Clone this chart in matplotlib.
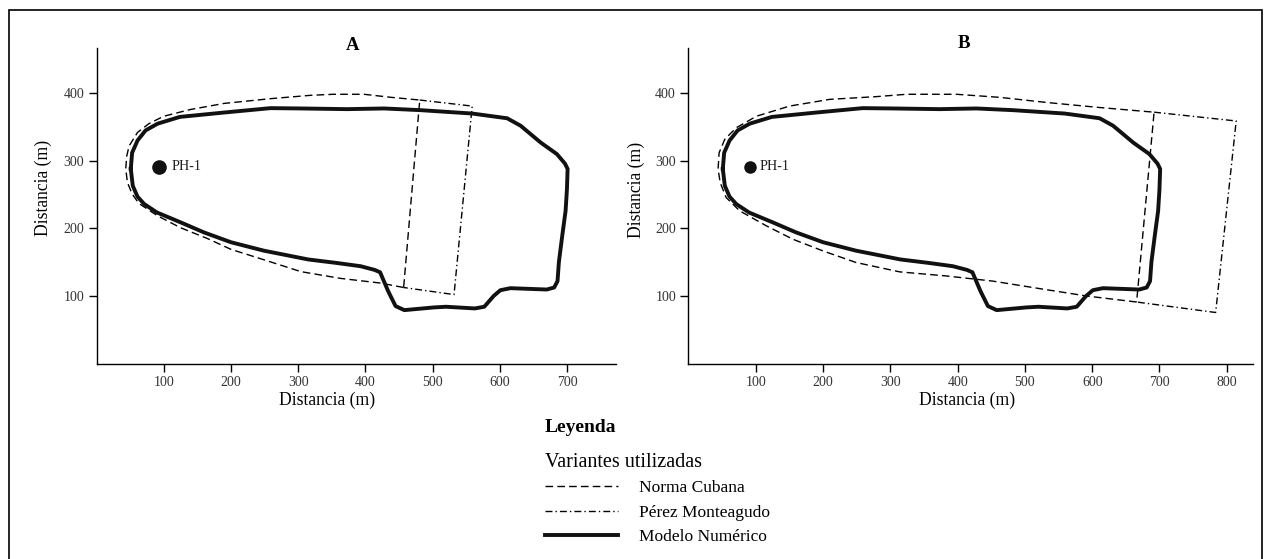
import matplotlib
matplotlib.use("Agg")
import matplotlib.pyplot as plt
from matplotlib.patches import Rectangle

plt.rcParams['font.family'] = ['Liberation Serif', 'DejaVu Serif']

# ---------------- data ----------------
# Modelo Numérico (same contour in both panels)
modelo_x = [51, 53, 61, 73, 91, 124, 190, 259, 304, 373, 428, 482, 559, 611, 631, 661, 685,
            697, 701, 700, 698, 693, 688, 686, 681, 670, 616, 601, 591, 577, 563, 520, 502,
            458, 445, 434, 422, 414, 393, 356, 315, 249, 200, 160, 125, 90, 71, 61, 54, 51]
modelo_y = [288, 312, 330, 345, 355, 365, 371.5, 378, 377.5, 376.5, 377.5, 375, 370, 363, 352,
            327, 310, 296, 288, 258, 226, 189, 150, 122, 112.5, 109.5, 111.5, 108.5, 100, 84,
            81.5, 84, 83, 79, 85, 107, 135, 138.5, 144, 149, 154, 167, 179.5, 194, 209, 223.5,
            236, 247, 263, 288]

# Norma Cubana - panel A
nc_a_x = [457, 423, 363, 304, 254, 200, 165, 125, 91, 63, 53, 46, 43.5, 45, 48.5, 61, 78, 100,
          140, 190, 259, 319, 353, 398, 438, 481, 457]
nc_a_y = [112.5, 119, 126, 136, 152, 169, 185, 201, 218.5, 237, 251, 268, 288, 307, 322, 342,
          355, 366, 376, 385, 392, 397, 398.5, 398.5, 394, 390, 112.5]
# Pérez Monteagudo - panel A
pm_a_x = [481, 559, 532, 457]
pm_a_y = [390, 381, 102, 112.5]

# Norma Cubana - panel B
nc_b_x = [666, 591, 521, 452, 383, 314, 249, 200, 155, 116, 76, 56, 47, 44, 45.5, 54, 71, 101,
          150, 210, 279, 324, 398, 462, 536, 610, 692, 666]
nc_b_y = [91, 100, 111, 122, 129.6, 135.6, 149.5, 166.6, 184, 203.6, 226, 245.6, 268, 288, 312,
          332, 349, 366, 381, 391, 395, 398.5, 398.5, 394, 386, 379, 372, 91]
# Pérez Monteagudo - panel B
pm_b_x = [692, 814, 783.5, 666]
pm_b_y = [372, 359, 75.5, 91]

# Well PH-1
ph_a = (92.5, 291)
ph_b = (91, 291)

xticks_a = [100, 200, 300, 400, 500, 600, 700]
xticks_b = [100, 200, 300, 400, 500, 600, 700, 800]
yticks = [100, 200, 300, 400]

labels = ["Norma Cubana", "Pérez Monteagudo", "Modelo Numérico"]

# ---------------- figure ----------------
W, H = 1270, 559
fig = plt.figure(figsize=(W / 100, H / 100), dpi=100)

def fx(px):
    return px / W

def fy(py):
    return 1 - py / H

bottom = fy(363.5)
height = (363.5 - 48) / H
axA = fig.add_axes([fx(96.5), bottom, (616 - 96.5) / W, height])
axB = fig.add_axes([fx(688.5), bottom, (1253 - 688.5) / W, height])

dash = (0, (5.5, 3))
dashdot = (0, (5, 2.2, 1, 2.2))

def draw(ax, ncx, ncy, pmx, pmy, ph, ms, xmax, xticks, phlab_dx):
    l1, = ax.plot(ncx, ncy, color='black', lw=1.0, linestyle=dash)
    l2, = ax.plot(pmx, pmy, color='black', lw=1.0, linestyle=dashdot)
    l3, = ax.plot(modelo_x, modelo_y, color='#111111', lw=2.8, solid_joinstyle='round')
    ax.plot([ph[0]], [ph[1]], 'o', color='#111111', ms=ms)
    ax.text(ph[0] + phlab_dx, ph[1], "PH-1", fontsize=10.2, va='center', ha='left',
            color='#222222')
    ax.set_xlim(0, xmax)
    ax.set_ylim(0, 467)
    ax.set_xticks(xticks)
    ax.set_yticks(yticks)
    for s in ['top', 'right']:
        ax.spines[s].set_visible(False)
    for s in ['left', 'bottom']:
        ax.spines[s].set_linewidth(1.0)
    ax.tick_params(direction='out', length=6, width=1.0, labelsize=10,
                   labelcolor='#333333', pad=3)
    return l1, l2, l3

hA = draw(axA, nc_a_x, nc_a_y, pm_a_x, pm_a_y, ph_a, 9.5, 773, xticks_a, 19)
hB = draw(axB, nc_b_x, nc_b_y, pm_b_x, pm_b_y, ph_b, 8.0, 839, xticks_b, 14)

# Titles
fig.text(fx(353), fy(45), "A", fontsize=13.5, fontweight='bold', ha='center', va='center')
fig.text(fx(963.6), fy(43), "B", fontsize=13.5, fontweight='bold', ha='center', va='center')

# Axis labels
fig.text(fx(43), fy(188), "Distancia (m)", fontsize=12.7, rotation=90, ha='center', va='center')
fig.text(fx(636.6), fy(190), "Distancia (m)", fontsize=12.7, rotation=90, ha='center', va='center')
fig.text(fx(327.5), fy(400), "Distancia (m)", fontsize=12.7, ha='center', va='center')
fig.text(fx(966.7), fy(400), "Distancia (m)", fontsize=12.7, ha='center', va='center')

# Legend
fig.text(fx(545), fy(428), "Leyenda", fontsize=14, fontweight='bold', ha='left', va='center')
leg = fig.legend(hA, labels, loc='upper left', bbox_to_anchor=(fx(545), fy(453)),
                 frameon=False, fontsize=12.5, title="Variantes utilizadas",
                 title_fontsize=14.5, alignment='left', handlelength=4.2,
                 handletextpad=1.2, labelspacing=0.48, borderpad=0, borderaxespad=0)
leg._legend_box.sep = 6

# Outer frame
fig.patches.append(Rectangle((fx(9), -0.05), fx(1262) - fx(9), fy(10) + 0.05,
                             transform=fig.transFigure, fill=False, lw=1.2,
                             edgecolor='black'))

fig.savefig("out.png", dpi=100)
